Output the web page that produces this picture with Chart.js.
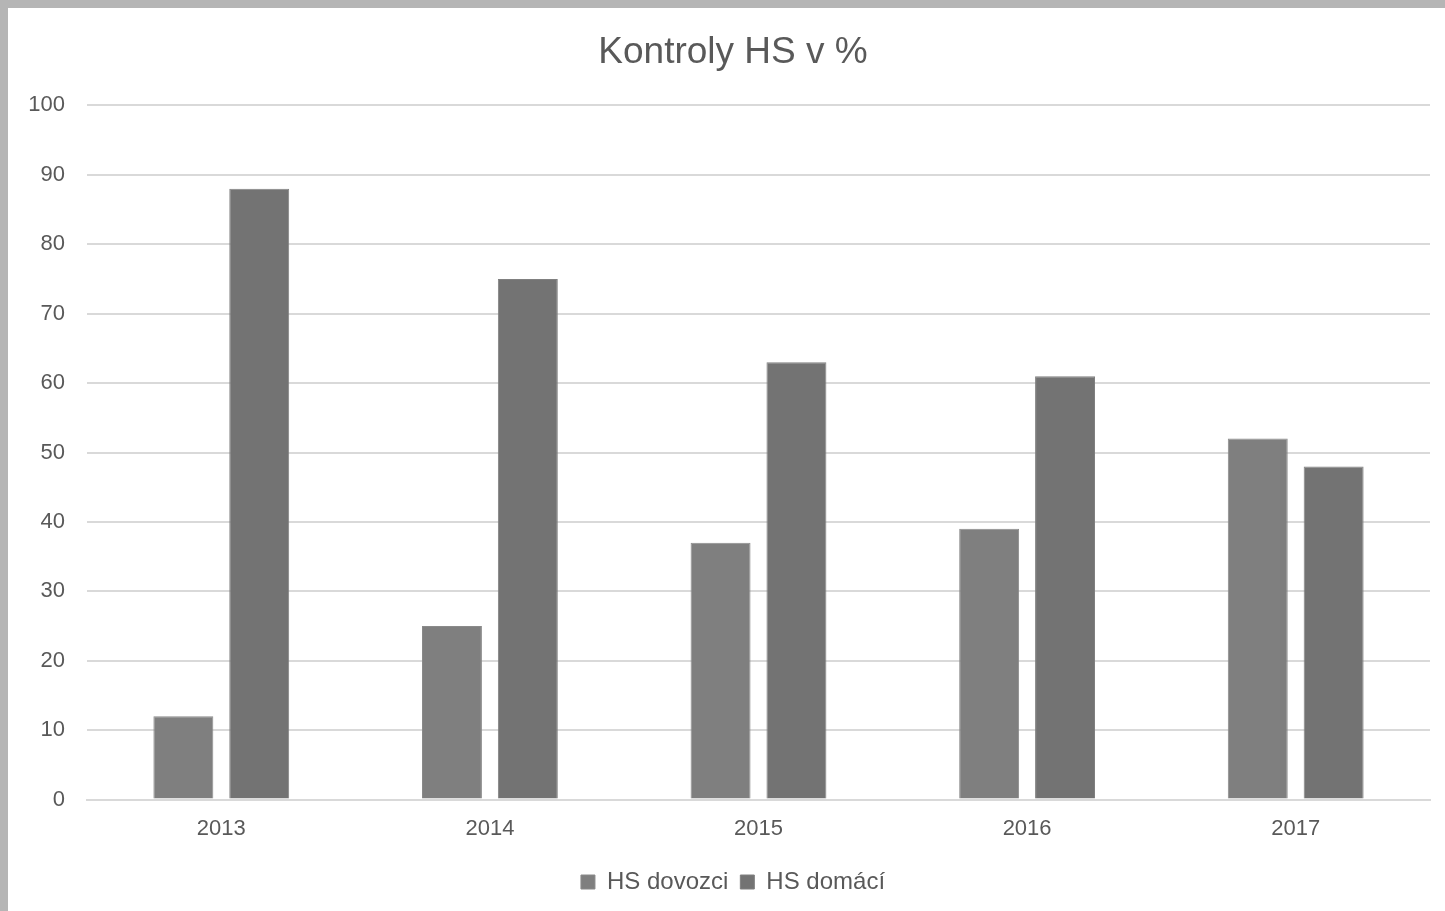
<!DOCTYPE html>
<html>
<head>
<meta charset="utf-8">
<script src="https://cdn.jsdelivr.net/npm/chart.js@4.4.1/dist/chart.umd.min.js"></script>
<style>
  html, body { margin: 0; padding: 0; }
  body {
    width: 1445px; height: 911px; overflow: hidden;
    background: #b5b5b5;
    position: relative;
  }
  #panel {
    position: absolute; left: 8px; top: 8px;
    width: 1437px; height: 903px; background: #fff;
  }
  canvas { display: block; }
</style>
</head>
<body>
<div id="panel"><canvas id="graf" width="1437" height="903"></canvas></div>
<script>
// Data
const roky = ['2013', '2014', '2015', '2016', '2017'];
const dovozci = [12, 25, 37, 39, 52];
const domaci = [88, 75, 63, 61, 48];
const osaY = { min: 0, max: 100, krok: 10 };

const sedaText = '#595959';
const pismo = "'Liberation Sans', Arial, sans-serif";

// popisky osy Y se nesmí oříznout levým okrajem
const bezOrezu = {
    id: 'bezOrezu',
    afterLayout: function(chart) { chart.scales.y.left = 0; }
};

const ctx = document.getElementById('graf').getContext('2d');
new Chart(ctx, {
    type: 'bar',
    data: {
        labels: roky,
        datasets: [{
            label: 'HS dovozci',
            data: dovozci,
            backgroundColor: '#7f7f7f',
            borderColor: '#8a8a8a',
            borderWidth: 1,
            categoryPercentage: 0.565,
            barPercentage: 0.79
        }, {
            label: 'HS domácí',
            data: domaci,
            backgroundColor: '#737373',
            borderColor: '#808080',
            borderWidth: 1,
            categoryPercentage: 0.565,
            barPercentage: 0.79
        }]
    },
    plugins: [bezOrezu],
    options: {
        responsive: false,
        animation: false,
        // levý okraj posouvá nadpis a legendu trochu doprava
        layout: { padding: { left: 28, right: 15, top: 14, bottom: 7 } },
        plugins: {
            title: {
                display: true,
                text: 'Kontroly HS v %',
                color: sedaText,
                font: { family: pismo, size: 37, weight: 'normal' },
                padding: { top: 9, bottom: 30 }
            },
            legend: {
                position: 'bottom',
                labels: {
                    color: sedaText,
                    font: { family: pismo, size: 24 },
                    boxWidth: 14,
                    boxHeight: 14,
                    padding: 12
                }
            },
            tooltip: { enabled: false }
        },
        scales: {
            x: {
                grid: { display: false, drawTicks: false },
                border: { display: true, color: '#d9d9d9', width: 2 },
                ticks: {
                    color: sedaText,
                    font: { family: pismo, size: 22 },
                    padding: 16
                }
            },
            y: {
                min: osaY.min,
                max: osaY.max,
                afterFit: function(scale) { scale.width = 51; },
                grid: { color: '#d9d9d9', lineWidth: 2, drawTicks: false },
                border: { display: false },
                ticks: {
                    stepSize: osaY.krok,
                    color: sedaText,
                    font: { family: pismo, size: 22 },
                    padding: 22
                }
            }
        }
    }
});
</script>
</body>
</html>
